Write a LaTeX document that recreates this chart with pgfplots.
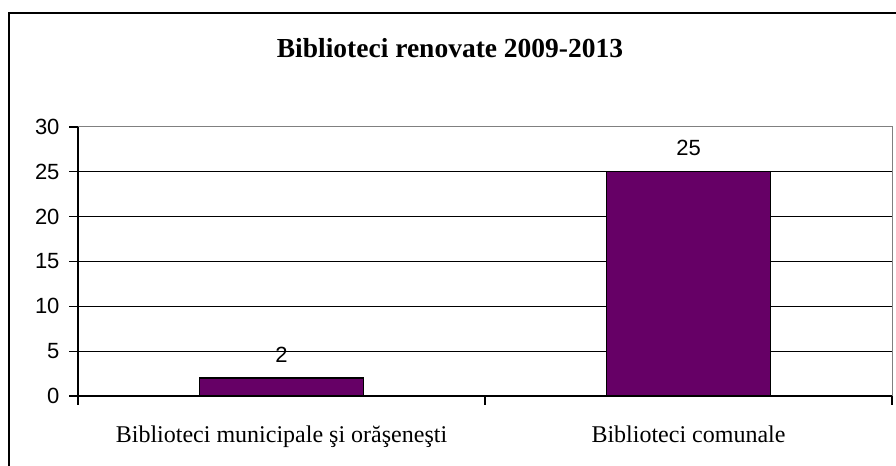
\documentclass[border=0pt]{standalone}
\usepackage{fontspec}
\setmainfont{Liberation Serif}
\newfontfamily\arial{Liberation Sans}
\usepackage{pgfplots}
\pgfplotsset{compat=1.18}
\definecolor{barpurple}{HTML}{660066}
\definecolor{bordergray}{HTML}{808080}
\begin{document}
\begin{tikzpicture}
\useasboundingbox (0,0) rectangle (896bp,466bp);
\draw[line width=1.6bp] (9bp,0) -- (9bp,453bp) -- (896bp,453bp);
\node[font=\bfseries\fontsize{27.5bp}{32bp}\selectfont, anchor=base, inner sep=0pt] at (450bp,408bp) {Biblioteci renovate 2009-2013};
\begin{axis}[
  at={(78bp,70bp)}, anchor=south west,
  scale only axis, width=814bp, height=269bp,
  xmin=-0.5, xmax=1.5, ymin=0, ymax=30,
  ytick={0,5,...,30},
  xtick={0,1},
  xticklabels={Biblioteci municipale şi orăşeneşti, Biblioteci comunale},
  /pgf/number format/assume math mode=true,
  axis line style={draw=bordergray, line width=1bp},
  ymajorgrids,
  grid style={black, line width=1bp},
  tick align=outside,
  major tick length=9bp,
  ytick pos=left,
  xtick pos=bottom,
  ytick style={black, line width=1.2bp},
  xtick style={draw=none},
  extra x ticks={-0.5,0.5,1.5},
  extra x tick labels={},
  extra x tick style={grid=none, xtick style={draw=black, line width=1.2bp}},
  yticklabel style={font=\arial\fontsize{22bp}{26bp}\selectfont, xshift=-6bp},
  xticklabel style={font=\fontsize{24bp}{28bp}\selectfont, anchor=base, yshift=-37bp},
  ybar,
  bar width=164bp,
  nodes near coords,
  every node near coord/.append style={font=\arial\fontsize{22bp}{26bp}\selectfont, anchor=base, yshift=16bp, inner sep=0pt},
  clip=false,
]
\addplot[fill=barpurple, draw=black, line width=1.2bp] coordinates {(0,2) (1,25)};
\draw[black, line width=1.4bp] (rel axis cs:0,1) -- (rel axis cs:0,0) -- (rel axis cs:1,0);
\end{axis}
\end{tikzpicture}
\end{document}
